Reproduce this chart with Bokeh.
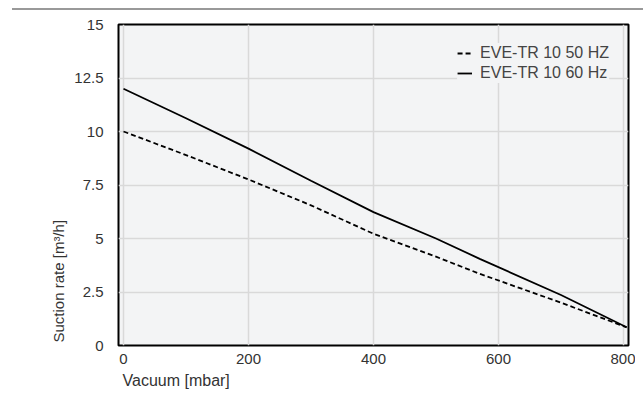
from bokeh.plotting import figure
from bokeh.models import Div, Title, Legend, LegendItem, FixedTicker
from bokeh.layouts import column
from bokeh.embed import file_html
from bokeh.resources import INLINE

vacuum = [0, 100, 200, 300, 400, 500, 570, 700, 805]
rate_50hz = [10.0, 8.9, 7.76, 6.55, 5.22, 4.15, 3.35, 2.0, 0.85]
rate_60hz = [12.0, 10.62, 9.2, 7.7, 6.23, 5.0, 4.05, 2.36, 0.85]
label_50 = "EVE-TR 10 50 HZ"
label_60 = "EVE-TR 10 60 Hz"
x_ticks = [0, 200, 400, 600, 800]
y_ticks = [0, 2.5, 5, 7.5, 10, 12.5, 15]

FONT = "Liberation Sans"
TXT = "#333333"
FS = "15px"

p = figure(width=635, height=390, output_backend="svg", toolbar_location=None,
           x_range=(-8, 808), y_range=(0, 15),
           min_border_left=118, min_border_right=7, min_border_top=14, min_border_bottom=55)
p.background_fill_color = "#f3f4f5"
p.border_fill_color = "white"
p.outline_line_color = "black"
p.outline_line_width = 2

r50 = p.line(vacuum, rate_50hz, line_color="black", line_width=1.8, line_dash="5 3")
r60 = p.line(vacuum, rate_60hz, line_color="black", line_width=1.8)

for ax in (p.xaxis[0], p.yaxis[0]):
    ax.axis_line_color = None
    ax.major_tick_line_color = None
    ax.minor_tick_line_color = None
    ax.major_tick_out = 0
    ax.major_tick_in = 0
    ax.major_label_text_font = FONT
    ax.major_label_text_font_size = FS
    ax.major_label_text_color = TXT
p.xaxis.ticker = FixedTicker(ticks=x_ticks)
p.yaxis.ticker = FixedTicker(ticks=y_ticks)
p.yaxis.major_label_overrides = {0: "0", 2.5: "2.5", 5: "5", 7.5: "7.5", 10: "10", 12.5: "12.5", 15: "15"}
p.xaxis.major_label_standoff = 8
p.yaxis.major_label_standoff = 15

p.grid.grid_line_color = "#d9d9d9"
p.grid.grid_line_width = 1.5
p.xgrid.ticker = FixedTicker(ticks=x_ticks)
p.ygrid.ticker = FixedTicker(ticks=y_ticks)

p.add_layout(Title(text="Vacuum [mbar]", align="left", offset=4, text_font=FONT,
                   text_font_size="16px", text_font_style="normal", text_color=TXT,
                   standoff=7), "below")
p.add_layout(Title(text="Suction rate [m³/h]", align="left", offset=3, text_font=FONT,
                   text_font_size=FS, text_font_style="normal", text_color=TXT,
                   standoff=10), "left")

legend = Legend(items=[LegendItem(label=label_50, renderers=[r50]),
                       LegendItem(label=label_60, renderers=[r60])],
                location="top_right")
legend.background_fill_color = "#f3f4f5"
legend.background_fill_alpha = 1
legend.border_line_color = None
legend.label_text_font = FONT
legend.label_text_font_size = "16px"
legend.label_text_color = "#444444"
legend.glyph_width = 15
legend.glyph_height = 20
legend.label_height = 20
legend.label_standoff = 8
legend.spacing = 0
legend.padding = 6
legend.margin = 19
p.add_layout(legend)

div = Div(text="", width=631, height=2, margin=(8, 0, 0, 12),
          styles={"background-color": "#999999", "height": "2px"})

layout = column(div, p, spacing=0)
open("out.html", "w").write(file_html(layout, INLINE))
